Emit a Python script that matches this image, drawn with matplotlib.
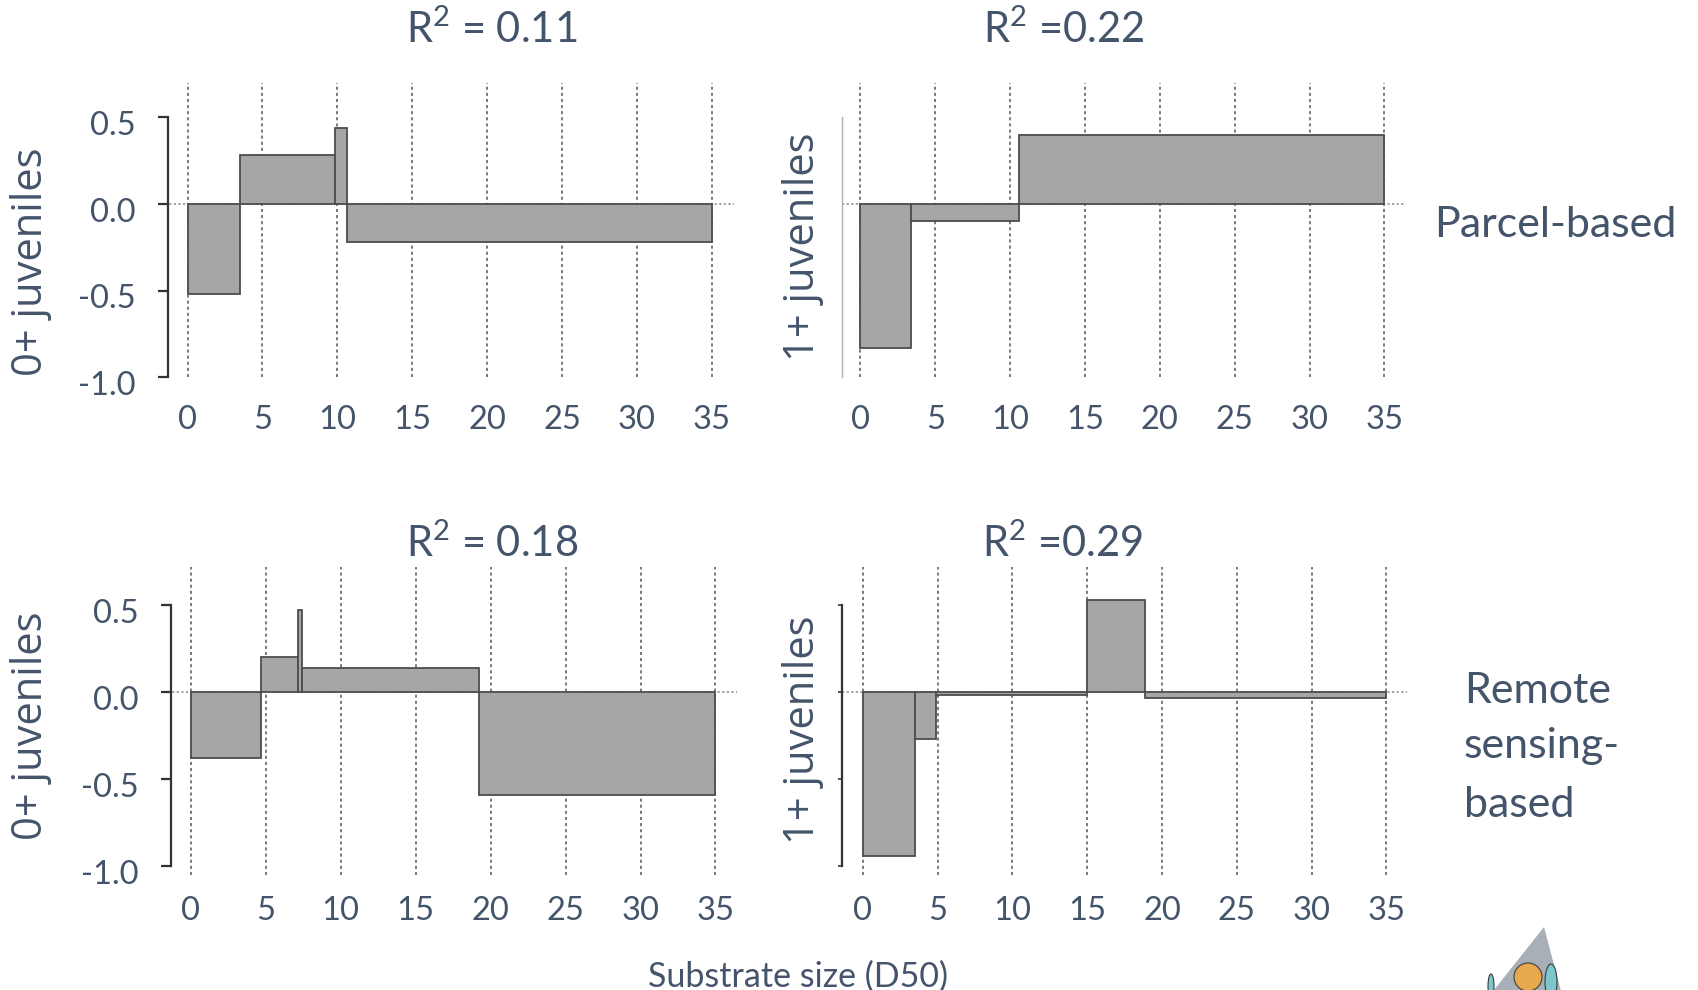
import numpy as np
import matplotlib
matplotlib.use("Agg")
import matplotlib.pyplot as plt
from matplotlib import transforms
from matplotlib.patches import Polygon, Ellipse

W, H, DPI = 1698, 990, 100

TEXT = "#44546A"
BAR_FILL = "#A6A6A6"
BAR_EDGE = "#4D4D4D"
GRID = "#555555"

x_ticks = [0, 5, 10, 15, 20, 25, 30, 35]
y_ticks = [-1.0, -0.5, 0.0, 0.5]
y_tick_labels = ["-1.0", "-0.5", "0.0", "0.5"]

# Step effects of substrate size (D50): bin edges and effect per bin
parcel_0_edges = [0, 3.47, 9.84, 10.64, 35]
parcel_0_vals = [-0.52, 0.28, 0.44, -0.22]
parcel_1_edges = [0, 3.40, 10.59, 35]
parcel_1_vals = [-0.83, -0.10, 0.40]
remote_0_edges = [0, 4.70, 7.12, 7.45, 19.20, 35]
remote_0_vals = [-0.38, 0.20, 0.47, 0.14, -0.59]
remote_1_edges = [0, 3.48, 4.92, 15.0, 18.88, 35]
remote_1_vals = [-0.94, -0.27, -0.02, 0.53, -0.035]

titles = ["R$^{2}$ = 0.11", "R$^{2}$ =0.22", "R$^{2}$ = 0.18", "R$^{2}$ =0.29"]
ylabels = ["0+ juveniles", "1+ juveniles", "0+ juveniles", "1+ juveniles"]
row_labels = ["Parcel-based", "Remote\nsensing-\nbased"]
xlabel = "Substrate size (D50)"

plt.rcParams["mathtext.fontset"] = "custom"
plt.rcParams["mathtext.rm"] = "Lato"
plt.rcParams["mathtext.it"] = "Lato:italic"
plt.rcParams["mathtext.bf"] = "Lato:bold"

fig = plt.figure(figsize=(W / DPI, H / DPI), dpi=DPI)
fig.patch.set_facecolor("white")


def fx(px):
    return px / W


def fy(py):
    return 1 - py / H


def make_axes(left, top, right, bottom):
    return fig.add_axes([fx(left), fy(bottom), fx(right - left), (bottom - top) / H])


panels = [
    dict(rect=(159.9, 82.7, 734.3, 377.3), xlim=(-1.85, 36.5), ylim=(-1.0, 0.70),
         edges=parcel_0_edges, vals=parcel_0_vals, spine_x=-1.30, style="full",
         title_xy=(491.7, 43.3), ylabel_xy=(31, 262), xpad=20),
    dict(rect=(841.9, 82.7, 1406.2, 377.3), xlim=(-1.24, 36.45), ylim=(-1.0, 0.70),
         edges=parcel_1_edges, vals=parcel_1_vals, spine_x=None, style="light",
         title_xy=(1063.5, 43.3), ylabel_xy=(803, 247), xpad=20),
    dict(rect=(162.6, 566.7, 737.2, 874.7), xlim=(-1.88, 36.45), ylim=(-1.05, 0.72),
         edges=remote_0_edges, vals=remote_0_vals, spine_x=-1.30, style="full",
         title_xy=(492, 556.7), ylabel_xy=(31, 726), xpad=15.5),
    dict(rect=(842.3, 566.7, 1407.2, 874.7), xlim=(-1.38, 36.4), ylim=(-1.05, 0.72),
         edges=remote_1_edges, vals=remote_1_vals, spine_x=None, style="bare",
         title_xy=(1062.6, 556.7), ylabel_xy=(803, 730), xpad=15.5),
]

label_shift = transforms.ScaledTranslation(0, -4 / 72, fig.dpi_scale_trans)

for i, p in enumerate(panels):
    ax = make_axes(*p["rect"])
    ax.set_facecolor("none")
    ax.set_xlim(*p["xlim"])
    ax.set_ylim(*p["ylim"])

    edges = np.asarray(p["edges"], dtype=float)
    ax.bar(edges[:-1], p["vals"], width=np.diff(edges), align="edge",
           color=BAR_FILL, edgecolor=BAR_EDGE, linewidth=1.3, zorder=3)

    ax.axhline(0, color="#8C8C8C", linewidth=1.1, linestyle=(0, (1.5, 1.5)), zorder=1)

    ax.set_xticks(x_ticks)
    ax.grid(axis="x", color=GRID, linewidth=1.1, linestyle=(0, (2, 2)), zorder=0)
    ax.tick_params(axis="x", length=0, pad=p["xpad"], labelsize=23.5, labelcolor=TEXT)
    for lab in ax.get_xticklabels():
        lab.set_fontfamily("Lato")

    for s in ("top", "right", "bottom"):
        ax.spines[s].set_visible(False)
    left = ax.spines["left"]
    if p["spine_x"] is not None:
        left.set_position(("data", p["spine_x"]))
    left.set_bounds(-1.0, 0.5)

    ax.set_yticks(y_ticks)
    if p["style"] == "full":
        left.set_color("#333333")
        left.set_linewidth(1.6)
        ax.set_yticklabels(y_tick_labels)
        ax.tick_params(axis="y", length=7, width=1.6, color="#333333", pad=16.5,
                       labelsize=23.5, labelcolor=TEXT)
        for lab in ax.get_yticklabels():
            lab.set_fontfamily("Lato")
            lab.set_transform(lab.get_transform() + label_shift)
    elif p["style"] == "light":
        left.set_color("#B0B0B0")
        left.set_linewidth(1.0)
        ax.tick_params(axis="y", length=0, labelleft=False)
    else:
        left.set_color("#333333")
        left.set_linewidth(1.6)
        ax.tick_params(axis="y", length=3, width=1.2, color="#333333", labelleft=False)

    tx, ty = p["title_xy"]
    fig.text(fx(tx), fy(ty), titles[i], ha="center", va="baseline",
             fontsize=30, color=TEXT, family="Lato")
    lx, ly = p["ylabel_xy"]
    fig.text(fx(lx), fy(ly), ylabels[i], ha="center", va="center", rotation=90,
             fontsize=30, color=TEXT, family="Open Sans")

# Row annotations
fig.text(fx(1434), fy(236.7), row_labels[0], ha="left", va="baseline",
         fontsize=31, color=TEXT, family="Lato")
for line, base in zip(row_labels[1].split("\n"), (703.3, 758.3, 816.7)):
    fig.text(fx(1464), fy(base), line, ha="left", va="baseline",
             fontsize=31, color=TEXT, family="Lato")

fig.text(fx(797.7), fy(986.7), xlabel, ha="center", va="baseline",
         fontsize=24.5, color=TEXT, family="Lato")

# Corner logo
logo = [
    Polygon([(fx(1544), fy(927)), (fx(1490), fy(995)), (fx(1562), fy(995))],
            closed=True, facecolor="#A9AFB7", edgecolor="none"),
    Ellipse((fx(1551), fy(982)), 12 / W, 36 / H, facecolor="#7CC6CE",
            edgecolor="#3A3A3A", linewidth=0.8),
    Ellipse((fx(1491), fy(986)), 6 / W, 24 / H, facecolor="#7CC6CE",
            edgecolor="#3A3A3A", linewidth=0.8),
    Ellipse((fx(1528), fy(977)), 28 / W, 28 / H, facecolor="#E8A84C",
            edgecolor="#4A4A4A", linewidth=0.9),
]
for patch in logo:
    patch.set_transform(fig.transFigure)
    fig.patches.append(patch)

fig.savefig("out.png", dpi=DPI, facecolor="white")
